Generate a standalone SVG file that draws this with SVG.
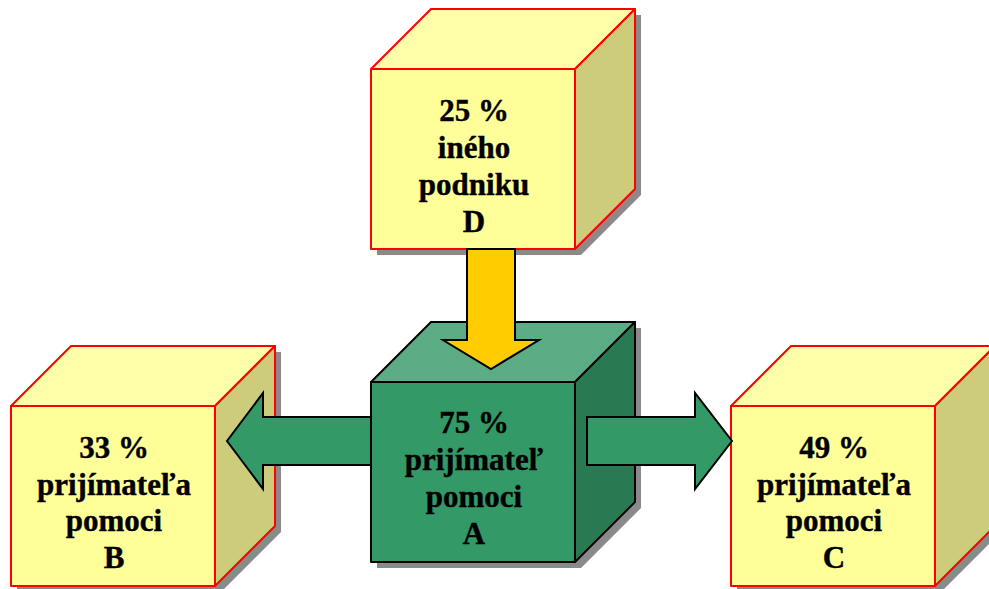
<svg xmlns="http://www.w3.org/2000/svg" width="989" height="589" viewBox="0 0 989 589">
<style>
.shadow{fill:#8a8a8a;stroke:none}
.yf{fill:#FFFF99;stroke:#FF0000;stroke-width:2;stroke-linejoin:round}
.yt{fill:#FFFFAA;stroke:#FF0000;stroke-width:2;stroke-linejoin:round}
.yr{fill:#CCCC7A;stroke:#FF0000;stroke-width:2;stroke-linejoin:round}
.gf{fill:#339966;stroke:#000;stroke-width:2;stroke-linejoin:round}
.gt{fill:#5CAD85;stroke:#000;stroke-width:2;stroke-linejoin:round}
.gr{fill:#297A52;stroke:#000;stroke-width:2;stroke-linejoin:round}
.arr-g{fill:#339966;stroke:#000;stroke-width:2;stroke-linejoin:miter}
.arr-y{fill:#FFCC00;stroke:#000;stroke-width:2;stroke-linejoin:miter}
.lbl{font-family:'Liberation Serif','Times New Roman',serif;font-weight:bold;font-size:31px;fill:#000;stroke:#000;stroke-width:0.4;text-anchor:middle}
</style>
<rect width="989" height="589" fill="#fff"/>
<g id="cube-D">
<polygon class="shadow" points="377,75 437,15 641,15 641,195 581,255 377,255"/>
<polygon class="yt" points="371,69 431,9 635,9 575,69"/>
<polygon class="yr" points="575,69 635,9 635,189 575,249"/>
<rect class="yf" x="371" y="69" width="204" height="180"/>
<g class="lbl">
<text x="474" y="121">25 %</text>
<text x="474" y="158">iného</text>
<text x="474" y="195">podniku</text>
<text x="474" y="232">D</text>
</g>
</g>
<g id="cube-B">
<polygon class="shadow" points="17,412 77,352 281,352 281,532 221,592 17,592"/>
<polygon class="yt" points="11,406 71,346 275,346 215,406"/>
<polygon class="yr" points="215,406 275,346 275,526 215,586"/>
<rect class="yf" x="11" y="406" width="204" height="180"/>
<g class="lbl">
<text x="114" y="458">33 %</text>
<text x="114" y="495">prijímateľa</text>
<text x="114" y="531">pomoci</text>
<text x="114" y="568">B</text>
</g>
</g>
<g id="cube-C">
<polygon class="shadow" points="737,412 797,352 1001,352 1001,532 941,592 737,592"/>
<polygon class="yt" points="731,406 791,346 995,346 935,406"/>
<polygon class="yr" points="935,406 995,346 995,526 935,586"/>
<rect class="yf" x="731" y="406" width="204" height="180"/>
<g class="lbl">
<text x="834" y="458">49 %</text>
<text x="834" y="495">prijímateľa</text>
<text x="834" y="531">pomoci</text>
<text x="834" y="568">C</text>
</g>
</g>
<g id="cube-A">
<polygon class="shadow" points="377,388 437,328 641,328 641,508 581,568 377,568"/>
<polygon class="gt" points="371,382 431,322 635,322 575,382"/>
<polygon class="gr" points="575,382 635,322 635,502 575,562"/>
<rect class="gf" x="371" y="382" width="204" height="180"/>
<g class="lbl">
<text x="474" y="433">75 %</text>
<text x="474" y="470">prijímateľ</text>
<text x="474" y="507">pomoci</text>
<text x="474" y="544">A</text>
</g>
</g>
<g id="connectors">
<polygon class="arr-y" points="467,249 515,249 515,340 539,340 491,369 443,340 467,340"/>
<polygon class="arr-g" points="371,417 263,417 263,393 227,441 263,489 263,465 371,465"/>
<polygon class="arr-g" points="587,417 695,417 695,393 732,441 695,489 695,465 587,465"/>
</g>
</svg>
